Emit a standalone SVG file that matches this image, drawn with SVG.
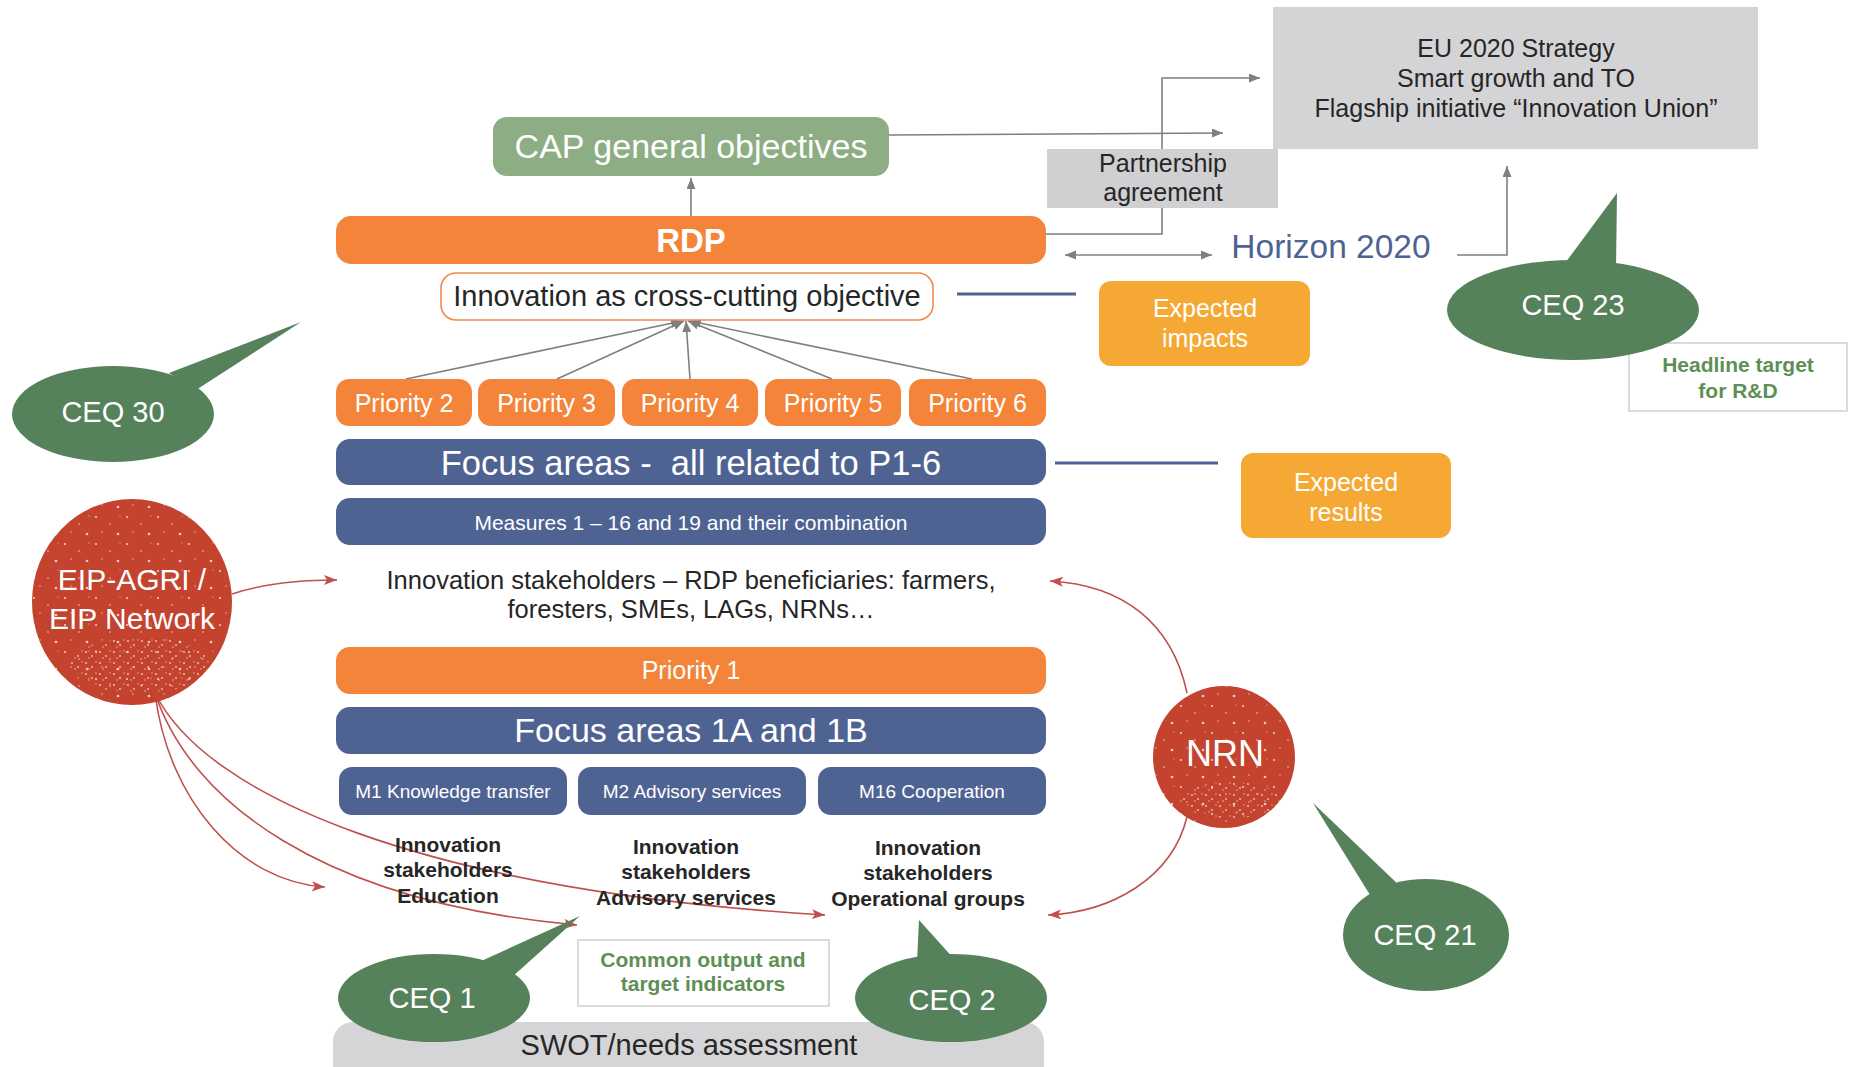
<svg xmlns="http://www.w3.org/2000/svg" width="1851" height="1067" viewBox="0 0 1851 1067">
<style>
text{font-family:"Liberation Sans",Arial,sans-serif;}
.w{fill:#fff}
.d{fill:#262626}
.c{text-anchor:middle}
.b{font-weight:bold}
.or{fill:#F3843A}
.bl{fill:#4F6393}
.ceq{fill:#55825B}
.yel{fill:#F5A833}
.red{fill:#C3432F}
.gl{fill:none;stroke:#7F7F7F;stroke-width:1.6}
.rl{fill:none;stroke:#C0504D;stroke-width:1.6}
.bline{stroke:#4F6393;stroke-width:3}
.gt{fill:#5E8F55}
</style>
<defs>
<marker id="ag" markerUnits="userSpaceOnUse" markerWidth="12" markerHeight="10" refX="11" refY="4.5" orient="auto-start-reverse"><path d="M0,0 L11,4.5 L0,9 z" fill="#7F7F7F"/></marker>
<marker id="ar" markerUnits="userSpaceOnUse" markerWidth="14" markerHeight="12" refX="13" refY="5" orient="auto"><path d="M0,0 L13,5 L0,10 L3,5 z" fill="#C0504D"/></marker>
<pattern id="speck" width="31" height="27" patternUnits="userSpaceOnUse">
<circle cx="3" cy="4" r="1.1" fill="#fff"/><circle cx="17" cy="11" r="0.8" fill="#fff"/><circle cx="25" cy="21" r="1.3" fill="#fff"/><circle cx="9" cy="19" r="0.7" fill="#fff"/><circle cx="27" cy="3" r="0.6" fill="#fff"/>
</pattern>
<pattern id="speck2" width="14" height="11" patternUnits="userSpaceOnUse">
<circle cx="2" cy="3" r="1.1" fill="#fff"/><circle cx="8" cy="7" r="1" fill="#fff"/><circle cx="12" cy="2" r="0.7" fill="#fff"/><circle cx="5" cy="9" r="0.8" fill="#fff"/>
</pattern>
</defs>

<g id="swot"><rect x="333" y="1022" width="711" height="70" rx="20" fill="#D5D5D7"/><text x="689" y="1055" class="d c" font-size="29">SWOT/needs assessment</text></g>
<g id="headline"><rect x="1629" y="343" width="218" height="68" fill="#fff" stroke="#D0D0D0" stroke-width="1.5"/><text x="1738" y="372" class="gt c b" font-size="21">Headline target</text><text x="1738" y="398" class="gt c b" font-size="21">for R&amp;D</text></g>

<g id="connectors">
<line x1="691" y1="216" x2="691" y2="178" class="gl" marker-end="url(#ag)"/>
<line x1="889" y1="135" x2="1223" y2="133" class="gl" marker-end="url(#ag)"/>
<polyline points="1046,234 1162,234 1162,78 1260,78" class="gl" marker-end="url(#ag)"/>
<line x1="1065" y1="255" x2="1212" y2="255" class="gl" marker-start="url(#ag)" marker-end="url(#ag)"/>
<polyline points="1457,255 1507,255 1507,166" class="gl" marker-end="url(#ag)"/>
<line x1="406" y1="379" x2="682" y2="321" class="gl" marker-end="url(#ag)"/>
<line x1="557" y1="379" x2="684" y2="321" class="gl" marker-end="url(#ag)"/>
<line x1="690" y1="379" x2="686" y2="321" class="gl" marker-end="url(#ag)"/>
<line x1="832" y1="379" x2="688" y2="321" class="gl" marker-end="url(#ag)"/>
<line x1="972" y1="379" x2="690" y2="321" class="gl" marker-end="url(#ag)"/>
<line x1="957" y1="294" x2="1076" y2="294" class="bline"/>
<line x1="1055" y1="463" x2="1218" y2="463" class="bline"/>
<path d="M232,594 C262,584 300,580 337,580" class="rl" marker-end="url(#ar)"/>
<path d="M155,693 C168,800 240,882 325,887" class="rl" marker-end="url(#ar)"/>
<path d="M155,693 C190,800 320,902 577,925" class="rl" marker-end="url(#ar)"/>
<path d="M155,693 C205,795 420,890 825,915" class="rl" marker-end="url(#ar)"/>
<path d="M1187,693 C1172,622 1122,585 1050,581" class="rl" marker-end="url(#ar)"/>
<path d="M1187,817 C1172,878 1112,912 1048,915" class="rl" marker-end="url(#ar)"/>
</g>

<g id="eu"><rect x="1273" y="7" width="485" height="142" fill="#D4D4D6"/>
<text x="1516" y="57" class="d c" font-size="25">EU 2020 Strategy</text>
<text x="1516" y="87" class="d c" font-size="25">Smart growth and TO</text>
<text x="1516" y="117" class="d c" font-size="25">Flagship initiative “Innovation Union”</text></g>
<g id="partnership"><rect x="1047" y="149" width="231" height="59" fill="#D0D0D2"/>
<text x="1163" y="172" class="d c" font-size="25">Partnership</text><text x="1163" y="201" class="d c" font-size="25">agreement</text></g>
<g id="horizon"><text x="1331" y="258" class="c" font-size="33.5" fill="#4F6393">Horizon 2020</text></g>

<g id="cap"><rect x="493" y="117" width="396" height="59" rx="14" fill="#8DAE84"/><text x="691" y="158" class="w c" font-size="34">CAP general objectives</text></g>
<g id="rdp"><rect x="336" y="216" width="710" height="48" rx="15" class="or"/><text x="691" y="252" class="w c b" font-size="33">RDP</text></g>
<g id="innovation"><rect x="441" y="273" width="492" height="47" rx="15" fill="#fff" stroke="#F08A4B" stroke-width="1.6"/><text x="687" y="306" class="d c" font-size="29">Innovation as cross-cutting objective</text></g>

<g id="p2"><rect x="336" y="379" width="136" height="47" rx="13" class="or"/><text x="404" y="412" class="w c" font-size="25">Priority 2</text></g>
<g id="p3"><rect x="478" y="379" width="137" height="47" rx="13" class="or"/><text x="546.5" y="412" class="w c" font-size="25">Priority 3</text></g>
<g id="p4"><rect x="622" y="379" width="136" height="47" rx="13" class="or"/><text x="690" y="412" class="w c" font-size="25">Priority 4</text></g>
<g id="p5"><rect x="765" y="379" width="136" height="47" rx="13" class="or"/><text x="833" y="412" class="w c" font-size="25">Priority 5</text></g>
<g id="p6"><rect x="909" y="379" width="137" height="47" rx="13" class="or"/><text x="977.5" y="412" class="w c" font-size="25">Priority 6</text></g>

<g id="focus-all"><rect x="336" y="439" width="710" height="46" rx="14" class="bl"/><text x="691" y="475" class="w c" font-size="34.5" style="white-space:pre">Focus areas -  all related to P1-6</text></g>
<g id="measures"><rect x="336" y="498" width="710" height="47" rx="14" class="bl"/><text x="691" y="530" class="w c" font-size="21">Measures 1 – 16 and 19 and their combination</text></g>
<g id="stakeholders"><text x="691" y="589" class="d c" font-size="25.5">Innovation stakeholders – RDP beneficiaries: farmers,</text><text x="691" y="618" class="d c" font-size="25.5">foresters, SMEs, LAGs, NRNs…</text></g>
<g id="p1"><rect x="336" y="647" width="710" height="47" rx="14" class="or"/><text x="691" y="679" class="w c" font-size="25">Priority 1</text></g>
<g id="focus-1"><rect x="336" y="707" width="710" height="47" rx="14" class="bl"/><text x="691" y="742" class="w c" font-size="34">Focus areas 1A and 1B</text></g>
<g id="m1"><rect x="339" y="767" width="228" height="48" rx="13" class="bl"/><text x="453" y="798" class="w c" font-size="19">M1 Knowledge transfer</text></g>
<g id="m2"><rect x="578" y="767" width="228" height="48" rx="13" class="bl"/><text x="692" y="798" class="w c" font-size="19">M2 Advisory services</text></g>
<g id="m16"><rect x="818" y="767" width="228" height="48" rx="13" class="bl"/><text x="932" y="798" class="w c" font-size="19">M16 Cooperation</text></g>

<g id="st-education"><text x="448" y="852" class="d c b" font-size="21">Innovation</text><text x="448" y="877" class="d c b" font-size="21">stakeholders</text><text x="448" y="903" class="d c b" font-size="21">Education</text></g>
<g id="st-advisory"><text x="686" y="854" class="d c b" font-size="21">Innovation</text><text x="686" y="879" class="d c b" font-size="21">stakeholders</text><text x="686" y="905" class="d c b" font-size="21">Advisory services</text></g>
<g id="st-operational"><text x="928" y="855" class="d c b" font-size="21">Innovation</text><text x="928" y="880" class="d c b" font-size="21">stakeholders</text><text x="928" y="906" class="d c b" font-size="21">Operational groups</text></g>

<g id="common"><rect x="578" y="940" width="251" height="66" fill="#fff" stroke="#D0D0D0" stroke-width="1.5"/><text x="703" y="967" class="gt c b" font-size="21">Common output and</text><text x="703" y="991" class="gt c b" font-size="21">target indicators</text></g>

<g id="exp-impacts"><rect x="1099" y="281" width="211" height="85" rx="12" class="yel"/><text x="1205" y="317" class="w c" font-size="25">Expected</text><text x="1205" y="347" class="w c" font-size="25">impacts</text></g>
<g id="exp-results"><rect x="1241" y="453" width="210" height="85" rx="12" class="yel"/><text x="1346" y="491" class="w c" font-size="25">Expected</text><text x="1346" y="521" class="w c" font-size="25">results</text></g>

<g id="ceq30"><polygon points="301,322 169,373 196,390" class="ceq"/><ellipse cx="113" cy="414" rx="101" ry="48" class="ceq"/><text x="113" y="422" class="w c" font-size="29">CEQ 30</text></g>
<g id="ceq23"><polygon points="1617,193 1560,270 1616,270" class="ceq"/><ellipse cx="1573" cy="310" rx="126" ry="50" class="ceq"/><text x="1573" y="315" class="w c" font-size="29">CEQ 23</text></g>
<g id="ceq21"><polygon points="1313,803 1402,888 1375,903" class="ceq"/><ellipse cx="1426" cy="935" rx="83" ry="56" class="ceq"/><text x="1425" y="945" class="w c" font-size="29">CEQ 21</text></g>
<g id="ceq1"><polygon points="580,916 468,967 512,977" class="ceq"/><ellipse cx="434" cy="998" rx="96" ry="44" class="ceq"/><text x="432" y="1008" class="w c" font-size="29">CEQ 1</text></g>
<g id="ceq2"><polygon points="919,920 917,962 955,960" class="ceq"/><ellipse cx="951" cy="998" rx="96" ry="44" class="ceq"/><text x="952" y="1010" class="w c" font-size="29">CEQ 2</text></g>

<g id="eip"><ellipse cx="132" cy="602" rx="100" ry="103" class="red"/><ellipse cx="132" cy="602" rx="100" ry="103" fill="url(#speck)" opacity="0.7"/><ellipse cx="140" cy="665" rx="70" ry="28" fill="url(#speck2)" opacity="0.6"/>
<text x="132" y="590" class="w c" font-size="30">EIP-AGRI /</text><text x="132" y="629" class="w c" font-size="30">EIP Network</text></g>
<g id="nrn"><circle cx="1224" cy="757" r="71" class="red"/><circle cx="1224" cy="757" r="71" fill="url(#speck)" opacity="0.7"/><ellipse cx="1230" cy="800" rx="50" ry="18" fill="url(#speck2)" opacity="0.6"/>
<text x="1225" y="766" class="w c" font-size="36">NRN</text></g>
</svg>
